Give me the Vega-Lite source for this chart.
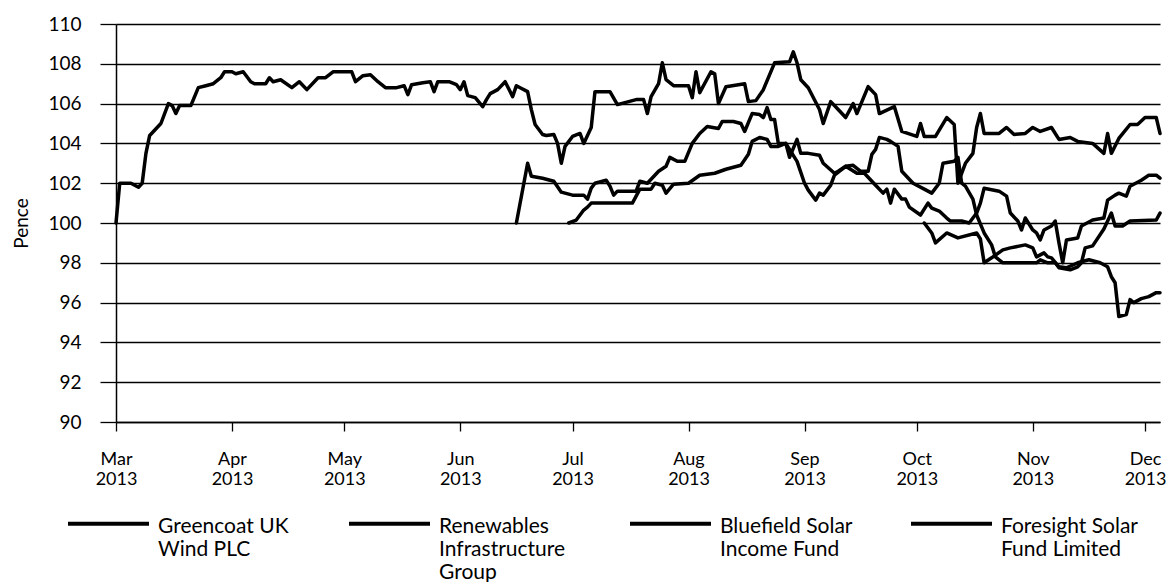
{
  "$schema": "https://vega.github.io/schema/vega-lite/v6.json",
  "autosize": {"type": "none"},
  "padding": {"left": 116, "top": 24, "right": 9, "bottom": 160},
  "width": 1044,
  "height": 398,
  "background": "white",
  "config": {
    "view": {"stroke": null},
    "font": "Lato",
    "text": {"font": "Lato"}
  },
  "data": {
    "values": [
      {"fund": "Greencoat UK Wind PLC", "date": "2013-03-01", "pence": 100.0},
      {"fund": "Greencoat UK Wind PLC", "date": "2013-03-02", "pence": 102.0},
      {"fund": "Greencoat UK Wind PLC", "date": "2013-03-05", "pence": 102.0},
      {"fund": "Greencoat UK Wind PLC", "date": "2013-03-07", "pence": 101.8},
      {"fund": "Greencoat UK Wind PLC", "date": "2013-03-08", "pence": 102.0},
      {"fund": "Greencoat UK Wind PLC", "date": "2013-03-09", "pence": 103.5},
      {"fund": "Greencoat UK Wind PLC", "date": "2013-03-10", "pence": 104.4},
      {"fund": "Greencoat UK Wind PLC", "date": "2013-03-12", "pence": 104.8},
      {"fund": "Greencoat UK Wind PLC", "date": "2013-03-13", "pence": 105.0},
      {"fund": "Greencoat UK Wind PLC", "date": "2013-03-15", "pence": 106.0},
      {"fund": "Greencoat UK Wind PLC", "date": "2013-03-16", "pence": 105.9},
      {"fund": "Greencoat UK Wind PLC", "date": "2013-03-17", "pence": 105.5},
      {"fund": "Greencoat UK Wind PLC", "date": "2013-03-18", "pence": 105.9},
      {"fund": "Greencoat UK Wind PLC", "date": "2013-03-21", "pence": 105.9},
      {"fund": "Greencoat UK Wind PLC", "date": "2013-03-23", "pence": 106.8},
      {"fund": "Greencoat UK Wind PLC", "date": "2013-03-25", "pence": 106.9},
      {"fund": "Greencoat UK Wind PLC", "date": "2013-03-27", "pence": 107.0},
      {"fund": "Greencoat UK Wind PLC", "date": "2013-03-29", "pence": 107.3},
      {"fund": "Greencoat UK Wind PLC", "date": "2013-03-30", "pence": 107.6},
      {"fund": "Greencoat UK Wind PLC", "date": "2013-04-01", "pence": 107.6},
      {"fund": "Greencoat UK Wind PLC", "date": "2013-04-02", "pence": 107.5},
      {"fund": "Greencoat UK Wind PLC", "date": "2013-04-04", "pence": 107.6},
      {"fund": "Greencoat UK Wind PLC", "date": "2013-04-06", "pence": 107.1},
      {"fund": "Greencoat UK Wind PLC", "date": "2013-04-07", "pence": 107.0},
      {"fund": "Greencoat UK Wind PLC", "date": "2013-04-10", "pence": 107.0},
      {"fund": "Greencoat UK Wind PLC", "date": "2013-04-11", "pence": 107.3},
      {"fund": "Greencoat UK Wind PLC", "date": "2013-04-12", "pence": 107.1},
      {"fund": "Greencoat UK Wind PLC", "date": "2013-04-14", "pence": 107.2},
      {"fund": "Greencoat UK Wind PLC", "date": "2013-04-17", "pence": 106.8},
      {"fund": "Greencoat UK Wind PLC", "date": "2013-04-19", "pence": 107.1},
      {"fund": "Greencoat UK Wind PLC", "date": "2013-04-21", "pence": 106.7},
      {"fund": "Greencoat UK Wind PLC", "date": "2013-04-24", "pence": 107.3},
      {"fund": "Greencoat UK Wind PLC", "date": "2013-04-26", "pence": 107.3},
      {"fund": "Greencoat UK Wind PLC", "date": "2013-04-28", "pence": 107.6},
      {"fund": "Greencoat UK Wind PLC", "date": "2013-05-03", "pence": 107.6},
      {"fund": "Greencoat UK Wind PLC", "date": "2013-05-04", "pence": 107.1},
      {"fund": "Greencoat UK Wind PLC", "date": "2013-05-06", "pence": 107.4},
      {"fund": "Greencoat UK Wind PLC", "date": "2013-05-08", "pence": 107.45},
      {"fund": "Greencoat UK Wind PLC", "date": "2013-05-10", "pence": 107.1},
      {"fund": "Greencoat UK Wind PLC", "date": "2013-05-12", "pence": 106.8},
      {"fund": "Greencoat UK Wind PLC", "date": "2013-05-15", "pence": 106.8},
      {"fund": "Greencoat UK Wind PLC", "date": "2013-05-17", "pence": 106.9},
      {"fund": "Greencoat UK Wind PLC", "date": "2013-05-18", "pence": 106.45},
      {"fund": "Greencoat UK Wind PLC", "date": "2013-05-19", "pence": 106.95},
      {"fund": "Greencoat UK Wind PLC", "date": "2013-05-22", "pence": 107.05},
      {"fund": "Greencoat UK Wind PLC", "date": "2013-05-24", "pence": 107.1},
      {"fund": "Greencoat UK Wind PLC", "date": "2013-05-25", "pence": 106.6},
      {"fund": "Greencoat UK Wind PLC", "date": "2013-05-26", "pence": 107.1},
      {"fund": "Greencoat UK Wind PLC", "date": "2013-05-29", "pence": 107.1},
      {"fund": "Greencoat UK Wind PLC", "date": "2013-05-31", "pence": 106.95},
      {"fund": "Greencoat UK Wind PLC", "date": "2013-06-01", "pence": 106.7},
      {"fund": "Greencoat UK Wind PLC", "date": "2013-06-02", "pence": 107.1},
      {"fund": "Greencoat UK Wind PLC", "date": "2013-06-03", "pence": 106.4},
      {"fund": "Greencoat UK Wind PLC", "date": "2013-06-05", "pence": 106.3},
      {"fund": "Greencoat UK Wind PLC", "date": "2013-06-07", "pence": 105.85},
      {"fund": "Greencoat UK Wind PLC", "date": "2013-06-08", "pence": 106.2},
      {"fund": "Greencoat UK Wind PLC", "date": "2013-06-09", "pence": 106.5},
      {"fund": "Greencoat UK Wind PLC", "date": "2013-06-11", "pence": 106.7},
      {"fund": "Greencoat UK Wind PLC", "date": "2013-06-13", "pence": 107.1},
      {"fund": "Greencoat UK Wind PLC", "date": "2013-06-15", "pence": 106.35},
      {"fund": "Greencoat UK Wind PLC", "date": "2013-06-16", "pence": 106.9},
      {"fund": "Greencoat UK Wind PLC", "date": "2013-06-17", "pence": 106.8},
      {"fund": "Greencoat UK Wind PLC", "date": "2013-06-19", "pence": 106.6},
      {"fund": "Greencoat UK Wind PLC", "date": "2013-06-20", "pence": 105.7},
      {"fund": "Greencoat UK Wind PLC", "date": "2013-06-21", "pence": 104.95},
      {"fund": "Greencoat UK Wind PLC", "date": "2013-06-23", "pence": 104.45},
      {"fund": "Greencoat UK Wind PLC", "date": "2013-06-24", "pence": 104.4},
      {"fund": "Greencoat UK Wind PLC", "date": "2013-06-26", "pence": 104.45},
      {"fund": "Greencoat UK Wind PLC", "date": "2013-06-27", "pence": 104.0},
      {"fund": "Greencoat UK Wind PLC", "date": "2013-06-28", "pence": 103.0},
      {"fund": "Greencoat UK Wind PLC", "date": "2013-06-29", "pence": 103.85},
      {"fund": "Greencoat UK Wind PLC", "date": "2013-07-01", "pence": 104.35},
      {"fund": "Greencoat UK Wind PLC", "date": "2013-07-03", "pence": 104.5},
      {"fund": "Greencoat UK Wind PLC", "date": "2013-07-04", "pence": 104.0},
      {"fund": "Greencoat UK Wind PLC", "date": "2013-07-06", "pence": 104.8},
      {"fund": "Greencoat UK Wind PLC", "date": "2013-07-07", "pence": 106.6},
      {"fund": "Greencoat UK Wind PLC", "date": "2013-07-11", "pence": 106.6},
      {"fund": "Greencoat UK Wind PLC", "date": "2013-07-13", "pence": 105.95},
      {"fund": "Greencoat UK Wind PLC", "date": "2013-07-15", "pence": 106.05},
      {"fund": "Greencoat UK Wind PLC", "date": "2013-07-18", "pence": 106.2},
      {"fund": "Greencoat UK Wind PLC", "date": "2013-07-20", "pence": 106.2},
      {"fund": "Greencoat UK Wind PLC", "date": "2013-07-21", "pence": 105.5},
      {"fund": "Greencoat UK Wind PLC", "date": "2013-07-22", "pence": 106.35},
      {"fund": "Greencoat UK Wind PLC", "date": "2013-07-24", "pence": 107.0},
      {"fund": "Greencoat UK Wind PLC", "date": "2013-07-25", "pence": 108.05},
      {"fund": "Greencoat UK Wind PLC", "date": "2013-07-26", "pence": 107.2},
      {"fund": "Greencoat UK Wind PLC", "date": "2013-07-28", "pence": 106.9},
      {"fund": "Greencoat UK Wind PLC", "date": "2013-08-01", "pence": 106.9},
      {"fund": "Greencoat UK Wind PLC", "date": "2013-08-02", "pence": 106.3},
      {"fund": "Greencoat UK Wind PLC", "date": "2013-08-03", "pence": 107.6},
      {"fund": "Greencoat UK Wind PLC", "date": "2013-08-04", "pence": 106.55},
      {"fund": "Greencoat UK Wind PLC", "date": "2013-08-07", "pence": 107.6},
      {"fund": "Greencoat UK Wind PLC", "date": "2013-08-08", "pence": 107.5},
      {"fund": "Greencoat UK Wind PLC", "date": "2013-08-09", "pence": 106.0},
      {"fund": "Greencoat UK Wind PLC", "date": "2013-08-11", "pence": 106.85},
      {"fund": "Greencoat UK Wind PLC", "date": "2013-08-16", "pence": 107.0},
      {"fund": "Greencoat UK Wind PLC", "date": "2013-08-17", "pence": 106.1},
      {"fund": "Greencoat UK Wind PLC", "date": "2013-08-19", "pence": 106.15},
      {"fund": "Greencoat UK Wind PLC", "date": "2013-08-21", "pence": 106.7},
      {"fund": "Greencoat UK Wind PLC", "date": "2013-08-24", "pence": 108.05},
      {"fund": "Greencoat UK Wind PLC", "date": "2013-08-28", "pence": 108.1},
      {"fund": "Greencoat UK Wind PLC", "date": "2013-08-29", "pence": 108.6},
      {"fund": "Greencoat UK Wind PLC", "date": "2013-08-30", "pence": 108.05},
      {"fund": "Greencoat UK Wind PLC", "date": "2013-08-31", "pence": 107.2},
      {"fund": "Greencoat UK Wind PLC", "date": "2013-09-02", "pence": 106.8},
      {"fund": "Greencoat UK Wind PLC", "date": "2013-09-05", "pence": 105.7},
      {"fund": "Greencoat UK Wind PLC", "date": "2013-09-06", "pence": 105.0},
      {"fund": "Greencoat UK Wind PLC", "date": "2013-09-08", "pence": 106.1},
      {"fund": "Greencoat UK Wind PLC", "date": "2013-09-10", "pence": 105.7},
      {"fund": "Greencoat UK Wind PLC", "date": "2013-09-12", "pence": 105.3},
      {"fund": "Greencoat UK Wind PLC", "date": "2013-09-14", "pence": 106.0},
      {"fund": "Greencoat UK Wind PLC", "date": "2013-09-15", "pence": 105.5},
      {"fund": "Greencoat UK Wind PLC", "date": "2013-09-18", "pence": 106.85},
      {"fund": "Greencoat UK Wind PLC", "date": "2013-09-20", "pence": 106.45},
      {"fund": "Greencoat UK Wind PLC", "date": "2013-09-21", "pence": 105.5},
      {"fund": "Greencoat UK Wind PLC", "date": "2013-09-25", "pence": 105.85},
      {"fund": "Greencoat UK Wind PLC", "date": "2013-09-27", "pence": 104.6},
      {"fund": "Greencoat UK Wind PLC", "date": "2013-10-01", "pence": 104.35},
      {"fund": "Greencoat UK Wind PLC", "date": "2013-10-02", "pence": 105.0},
      {"fund": "Greencoat UK Wind PLC", "date": "2013-10-03", "pence": 104.35},
      {"fund": "Greencoat UK Wind PLC", "date": "2013-10-06", "pence": 104.35},
      {"fund": "Greencoat UK Wind PLC", "date": "2013-10-09", "pence": 105.3},
      {"fund": "Greencoat UK Wind PLC", "date": "2013-10-11", "pence": 104.95},
      {"fund": "Greencoat UK Wind PLC", "date": "2013-10-12", "pence": 102.0},
      {"fund": "Greencoat UK Wind PLC", "date": "2013-10-14", "pence": 103.0},
      {"fund": "Greencoat UK Wind PLC", "date": "2013-10-16", "pence": 103.5},
      {"fund": "Greencoat UK Wind PLC", "date": "2013-10-17", "pence": 104.8},
      {"fund": "Greencoat UK Wind PLC", "date": "2013-10-18", "pence": 105.5},
      {"fund": "Greencoat UK Wind PLC", "date": "2013-10-19", "pence": 104.5},
      {"fund": "Greencoat UK Wind PLC", "date": "2013-10-23", "pence": 104.5},
      {"fund": "Greencoat UK Wind PLC", "date": "2013-10-25", "pence": 104.8},
      {"fund": "Greencoat UK Wind PLC", "date": "2013-10-27", "pence": 104.45},
      {"fund": "Greencoat UK Wind PLC", "date": "2013-10-30", "pence": 104.5},
      {"fund": "Greencoat UK Wind PLC", "date": "2013-11-01", "pence": 104.8},
      {"fund": "Greencoat UK Wind PLC", "date": "2013-11-03", "pence": 104.6},
      {"fund": "Greencoat UK Wind PLC", "date": "2013-11-06", "pence": 104.8},
      {"fund": "Greencoat UK Wind PLC", "date": "2013-11-08", "pence": 104.2},
      {"fund": "Greencoat UK Wind PLC", "date": "2013-11-11", "pence": 104.3},
      {"fund": "Greencoat UK Wind PLC", "date": "2013-11-13", "pence": 104.1},
      {"fund": "Greencoat UK Wind PLC", "date": "2013-11-17", "pence": 104.0},
      {"fund": "Greencoat UK Wind PLC", "date": "2013-11-20", "pence": 103.5},
      {"fund": "Greencoat UK Wind PLC", "date": "2013-11-21", "pence": 104.5},
      {"fund": "Greencoat UK Wind PLC", "date": "2013-11-22", "pence": 103.5},
      {"fund": "Greencoat UK Wind PLC", "date": "2013-11-24", "pence": 104.25},
      {"fund": "Greencoat UK Wind PLC", "date": "2013-11-27", "pence": 104.95},
      {"fund": "Greencoat UK Wind PLC", "date": "2013-11-29", "pence": 104.95},
      {"fund": "Greencoat UK Wind PLC", "date": "2013-12-01", "pence": 105.3},
      {"fund": "Greencoat UK Wind PLC", "date": "2013-12-04", "pence": 105.3},
      {"fund": "Greencoat UK Wind PLC", "date": "2013-12-05", "pence": 104.5},

      {"fund": "Bluefield Solar Income Fund", "date": "2013-06-16", "pence": 100.0},
      {"fund": "Bluefield Solar Income Fund", "date": "2013-06-19", "pence": 103.0},
      {"fund": "Bluefield Solar Income Fund", "date": "2013-06-20", "pence": 102.35},
      {"fund": "Bluefield Solar Income Fund", "date": "2013-06-23", "pence": 102.25},
      {"fund": "Bluefield Solar Income Fund", "date": "2013-06-26", "pence": 102.1},
      {"fund": "Bluefield Solar Income Fund", "date": "2013-06-28", "pence": 101.55},
      {"fund": "Bluefield Solar Income Fund", "date": "2013-07-01", "pence": 101.4},
      {"fund": "Bluefield Solar Income Fund", "date": "2013-07-04", "pence": 101.4},
      {"fund": "Bluefield Solar Income Fund", "date": "2013-07-05", "pence": 101.2},
      {"fund": "Bluefield Solar Income Fund", "date": "2013-07-06", "pence": 101.75},
      {"fund": "Bluefield Solar Income Fund", "date": "2013-07-07", "pence": 102.0},
      {"fund": "Bluefield Solar Income Fund", "date": "2013-07-10", "pence": 102.15},
      {"fund": "Bluefield Solar Income Fund", "date": "2013-07-11", "pence": 101.85},
      {"fund": "Bluefield Solar Income Fund", "date": "2013-07-12", "pence": 101.4},
      {"fund": "Bluefield Solar Income Fund", "date": "2013-07-13", "pence": 101.6},
      {"fund": "Bluefield Solar Income Fund", "date": "2013-07-18", "pence": 101.6},
      {"fund": "Bluefield Solar Income Fund", "date": "2013-07-19", "pence": 102.1},
      {"fund": "Bluefield Solar Income Fund", "date": "2013-07-21", "pence": 102.0},
      {"fund": "Bluefield Solar Income Fund", "date": "2013-07-24", "pence": 102.6},
      {"fund": "Bluefield Solar Income Fund", "date": "2013-07-26", "pence": 102.85},
      {"fund": "Bluefield Solar Income Fund", "date": "2013-07-27", "pence": 103.3},
      {"fund": "Bluefield Solar Income Fund", "date": "2013-07-29", "pence": 103.1},
      {"fund": "Bluefield Solar Income Fund", "date": "2013-07-31", "pence": 103.1},
      {"fund": "Bluefield Solar Income Fund", "date": "2013-08-02", "pence": 104.0},
      {"fund": "Bluefield Solar Income Fund", "date": "2013-08-04", "pence": 104.5},
      {"fund": "Bluefield Solar Income Fund", "date": "2013-08-06", "pence": 104.85},
      {"fund": "Bluefield Solar Income Fund", "date": "2013-08-09", "pence": 104.75},
      {"fund": "Bluefield Solar Income Fund", "date": "2013-08-10", "pence": 105.1},
      {"fund": "Bluefield Solar Income Fund", "date": "2013-08-13", "pence": 105.1},
      {"fund": "Bluefield Solar Income Fund", "date": "2013-08-15", "pence": 105.0},
      {"fund": "Bluefield Solar Income Fund", "date": "2013-08-16", "pence": 104.6},
      {"fund": "Bluefield Solar Income Fund", "date": "2013-08-18", "pence": 105.5},
      {"fund": "Bluefield Solar Income Fund", "date": "2013-08-20", "pence": 105.45},
      {"fund": "Bluefield Solar Income Fund", "date": "2013-08-21", "pence": 105.3},
      {"fund": "Bluefield Solar Income Fund", "date": "2013-08-22", "pence": 105.8},
      {"fund": "Bluefield Solar Income Fund", "date": "2013-08-23", "pence": 105.2},
      {"fund": "Bluefield Solar Income Fund", "date": "2013-08-24", "pence": 105.2},
      {"fund": "Bluefield Solar Income Fund", "date": "2013-08-25", "pence": 104.0},
      {"fund": "Bluefield Solar Income Fund", "date": "2013-08-27", "pence": 104.0},
      {"fund": "Bluefield Solar Income Fund", "date": "2013-08-28", "pence": 103.3},
      {"fund": "Bluefield Solar Income Fund", "date": "2013-08-30", "pence": 104.2},
      {"fund": "Bluefield Solar Income Fund", "date": "2013-08-31", "pence": 103.5},
      {"fund": "Bluefield Solar Income Fund", "date": "2013-09-02", "pence": 103.5},
      {"fund": "Bluefield Solar Income Fund", "date": "2013-09-05", "pence": 103.4},
      {"fund": "Bluefield Solar Income Fund", "date": "2013-09-06", "pence": 103.0},
      {"fund": "Bluefield Solar Income Fund", "date": "2013-09-09", "pence": 102.5},
      {"fund": "Bluefield Solar Income Fund", "date": "2013-09-10", "pence": 102.6},
      {"fund": "Bluefield Solar Income Fund", "date": "2013-09-12", "pence": 102.85},
      {"fund": "Bluefield Solar Income Fund", "date": "2013-09-15", "pence": 102.5},
      {"fund": "Bluefield Solar Income Fund", "date": "2013-09-17", "pence": 102.5},
      {"fund": "Bluefield Solar Income Fund", "date": "2013-09-20", "pence": 101.9},
      {"fund": "Bluefield Solar Income Fund", "date": "2013-09-22", "pence": 101.5},
      {"fund": "Bluefield Solar Income Fund", "date": "2013-09-23", "pence": 101.7},
      {"fund": "Bluefield Solar Income Fund", "date": "2013-09-24", "pence": 101.0},
      {"fund": "Bluefield Solar Income Fund", "date": "2013-09-25", "pence": 101.7},
      {"fund": "Bluefield Solar Income Fund", "date": "2013-09-27", "pence": 101.2},
      {"fund": "Bluefield Solar Income Fund", "date": "2013-09-28", "pence": 101.2},
      {"fund": "Bluefield Solar Income Fund", "date": "2013-09-29", "pence": 100.8},
      {"fund": "Bluefield Solar Income Fund", "date": "2013-10-02", "pence": 100.4},
      {"fund": "Bluefield Solar Income Fund", "date": "2013-10-04", "pence": 101.0},
      {"fund": "Bluefield Solar Income Fund", "date": "2013-10-05", "pence": 100.75},
      {"fund": "Bluefield Solar Income Fund", "date": "2013-10-07", "pence": 100.6},
      {"fund": "Bluefield Solar Income Fund", "date": "2013-10-09", "pence": 100.25},
      {"fund": "Bluefield Solar Income Fund", "date": "2013-10-10", "pence": 100.1},
      {"fund": "Bluefield Solar Income Fund", "date": "2013-10-13", "pence": 100.1},
      {"fund": "Bluefield Solar Income Fund", "date": "2013-10-15", "pence": 100.0},
      {"fund": "Bluefield Solar Income Fund", "date": "2013-10-17", "pence": 100.5},
      {"fund": "Bluefield Solar Income Fund", "date": "2013-10-18", "pence": 101.0},
      {"fund": "Bluefield Solar Income Fund", "date": "2013-10-19", "pence": 101.75},
      {"fund": "Bluefield Solar Income Fund", "date": "2013-10-23", "pence": 101.6},
      {"fund": "Bluefield Solar Income Fund", "date": "2013-10-25", "pence": 101.35},
      {"fund": "Bluefield Solar Income Fund", "date": "2013-10-26", "pence": 100.5},
      {"fund": "Bluefield Solar Income Fund", "date": "2013-10-28", "pence": 100.1},
      {"fund": "Bluefield Solar Income Fund", "date": "2013-10-29", "pence": 99.65},
      {"fund": "Bluefield Solar Income Fund", "date": "2013-10-30", "pence": 100.25},
      {"fund": "Bluefield Solar Income Fund", "date": "2013-11-01", "pence": 99.65},
      {"fund": "Bluefield Solar Income Fund", "date": "2013-11-02", "pence": 99.5},
      {"fund": "Bluefield Solar Income Fund", "date": "2013-11-03", "pence": 99.15},
      {"fund": "Bluefield Solar Income Fund", "date": "2013-11-04", "pence": 99.65},
      {"fund": "Bluefield Solar Income Fund", "date": "2013-11-06", "pence": 99.85},
      {"fund": "Bluefield Solar Income Fund", "date": "2013-11-07", "pence": 100.1},
      {"fund": "Bluefield Solar Income Fund", "date": "2013-11-08", "pence": 99.0},
      {"fund": "Bluefield Solar Income Fund", "date": "2013-11-09", "pence": 98.0},
      {"fund": "Bluefield Solar Income Fund", "date": "2013-11-10", "pence": 99.15},
      {"fund": "Bluefield Solar Income Fund", "date": "2013-11-13", "pence": 99.25},
      {"fund": "Bluefield Solar Income Fund", "date": "2013-11-14", "pence": 99.85},
      {"fund": "Bluefield Solar Income Fund", "date": "2013-11-17", "pence": 100.15},
      {"fund": "Bluefield Solar Income Fund", "date": "2013-11-20", "pence": 100.25},
      {"fund": "Bluefield Solar Income Fund", "date": "2013-11-21", "pence": 101.15},
      {"fund": "Bluefield Solar Income Fund", "date": "2013-11-23", "pence": 101.4},
      {"fund": "Bluefield Solar Income Fund", "date": "2013-11-24", "pence": 101.5},
      {"fund": "Bluefield Solar Income Fund", "date": "2013-11-26", "pence": 101.35},
      {"fund": "Bluefield Solar Income Fund", "date": "2013-11-27", "pence": 101.85},
      {"fund": "Bluefield Solar Income Fund", "date": "2013-11-30", "pence": 102.15},
      {"fund": "Bluefield Solar Income Fund", "date": "2013-12-02", "pence": 102.4},
      {"fund": "Bluefield Solar Income Fund", "date": "2013-12-04", "pence": 102.4},
      {"fund": "Bluefield Solar Income Fund", "date": "2013-12-05", "pence": 102.25},

      {"fund": "Renewables Infrastructure Group", "date": "2013-06-30", "pence": 100.0},
      {"fund": "Renewables Infrastructure Group", "date": "2013-07-02", "pence": 100.15},
      {"fund": "Renewables Infrastructure Group", "date": "2013-07-03", "pence": 100.4},
      {"fund": "Renewables Infrastructure Group", "date": "2013-07-04", "pence": 100.65},
      {"fund": "Renewables Infrastructure Group", "date": "2013-07-05", "pence": 100.8},
      {"fund": "Renewables Infrastructure Group", "date": "2013-07-06", "pence": 101.0},
      {"fund": "Renewables Infrastructure Group", "date": "2013-07-17", "pence": 101.0},
      {"fund": "Renewables Infrastructure Group", "date": "2013-07-18", "pence": 101.35},
      {"fund": "Renewables Infrastructure Group", "date": "2013-07-19", "pence": 101.7},
      {"fund": "Renewables Infrastructure Group", "date": "2013-07-22", "pence": 101.7},
      {"fund": "Renewables Infrastructure Group", "date": "2013-07-23", "pence": 102.0},
      {"fund": "Renewables Infrastructure Group", "date": "2013-07-25", "pence": 101.9},
      {"fund": "Renewables Infrastructure Group", "date": "2013-07-26", "pence": 101.5},
      {"fund": "Renewables Infrastructure Group", "date": "2013-07-28", "pence": 101.95},
      {"fund": "Renewables Infrastructure Group", "date": "2013-08-01", "pence": 102.0},
      {"fund": "Renewables Infrastructure Group", "date": "2013-08-04", "pence": 102.4},
      {"fund": "Renewables Infrastructure Group", "date": "2013-08-08", "pence": 102.5},
      {"fund": "Renewables Infrastructure Group", "date": "2013-08-11", "pence": 102.7},
      {"fund": "Renewables Infrastructure Group", "date": "2013-08-15", "pence": 102.9},
      {"fund": "Renewables Infrastructure Group", "date": "2013-08-17", "pence": 103.45},
      {"fund": "Renewables Infrastructure Group", "date": "2013-08-18", "pence": 104.1},
      {"fund": "Renewables Infrastructure Group", "date": "2013-08-20", "pence": 104.3},
      {"fund": "Renewables Infrastructure Group", "date": "2013-08-22", "pence": 104.2},
      {"fund": "Renewables Infrastructure Group", "date": "2013-08-23", "pence": 103.85},
      {"fund": "Renewables Infrastructure Group", "date": "2013-08-25", "pence": 103.85},
      {"fund": "Renewables Infrastructure Group", "date": "2013-08-27", "pence": 104.0},
      {"fund": "Renewables Infrastructure Group", "date": "2013-08-30", "pence": 103.1},
      {"fund": "Renewables Infrastructure Group", "date": "2013-09-01", "pence": 102.0},
      {"fund": "Renewables Infrastructure Group", "date": "2013-09-02", "pence": 101.65},
      {"fund": "Renewables Infrastructure Group", "date": "2013-09-04", "pence": 101.15},
      {"fund": "Renewables Infrastructure Group", "date": "2013-09-05", "pence": 101.5},
      {"fund": "Renewables Infrastructure Group", "date": "2013-09-06", "pence": 101.4},
      {"fund": "Renewables Infrastructure Group", "date": "2013-09-08", "pence": 101.9},
      {"fund": "Renewables Infrastructure Group", "date": "2013-09-09", "pence": 102.4},
      {"fund": "Renewables Infrastructure Group", "date": "2013-09-12", "pence": 102.85},
      {"fund": "Renewables Infrastructure Group", "date": "2013-09-14", "pence": 102.9},
      {"fund": "Renewables Infrastructure Group", "date": "2013-09-16", "pence": 102.6},
      {"fund": "Renewables Infrastructure Group", "date": "2013-09-18", "pence": 102.6},
      {"fund": "Renewables Infrastructure Group", "date": "2013-09-19", "pence": 103.45},
      {"fund": "Renewables Infrastructure Group", "date": "2013-09-20", "pence": 103.7},
      {"fund": "Renewables Infrastructure Group", "date": "2013-09-21", "pence": 104.3},
      {"fund": "Renewables Infrastructure Group", "date": "2013-09-23", "pence": 104.2},
      {"fund": "Renewables Infrastructure Group", "date": "2013-09-24", "pence": 104.1},
      {"fund": "Renewables Infrastructure Group", "date": "2013-09-26", "pence": 103.85},
      {"fund": "Renewables Infrastructure Group", "date": "2013-09-27", "pence": 102.6},
      {"fund": "Renewables Infrastructure Group", "date": "2013-09-30", "pence": 102.0},
      {"fund": "Renewables Infrastructure Group", "date": "2013-10-03", "pence": 101.7},
      {"fund": "Renewables Infrastructure Group", "date": "2013-10-05", "pence": 101.5},
      {"fund": "Renewables Infrastructure Group", "date": "2013-10-07", "pence": 102.0},
      {"fund": "Renewables Infrastructure Group", "date": "2013-10-08", "pence": 103.0},
      {"fund": "Renewables Infrastructure Group", "date": "2013-10-11", "pence": 103.1},
      {"fund": "Renewables Infrastructure Group", "date": "2013-10-12", "pence": 103.3},
      {"fund": "Renewables Infrastructure Group", "date": "2013-10-13", "pence": 102.0},
      {"fund": "Renewables Infrastructure Group", "date": "2013-10-14", "pence": 101.85},
      {"fund": "Renewables Infrastructure Group", "date": "2013-10-16", "pence": 101.2},
      {"fund": "Renewables Infrastructure Group", "date": "2013-10-17", "pence": 100.4},
      {"fund": "Renewables Infrastructure Group", "date": "2013-10-19", "pence": 99.5},
      {"fund": "Renewables Infrastructure Group", "date": "2013-10-21", "pence": 98.9},
      {"fund": "Renewables Infrastructure Group", "date": "2013-10-22", "pence": 98.3},
      {"fund": "Renewables Infrastructure Group", "date": "2013-10-24", "pence": 98.0},
      {"fund": "Renewables Infrastructure Group", "date": "2013-11-02", "pence": 98.0},
      {"fund": "Renewables Infrastructure Group", "date": "2013-11-03", "pence": 98.15},
      {"fund": "Renewables Infrastructure Group", "date": "2013-11-05", "pence": 98.0},
      {"fund": "Renewables Infrastructure Group", "date": "2013-11-07", "pence": 98.0},
      {"fund": "Renewables Infrastructure Group", "date": "2013-11-08", "pence": 97.75},
      {"fund": "Renewables Infrastructure Group", "date": "2013-11-11", "pence": 97.65},
      {"fund": "Renewables Infrastructure Group", "date": "2013-11-13", "pence": 97.8},
      {"fund": "Renewables Infrastructure Group", "date": "2013-11-14", "pence": 98.0},
      {"fund": "Renewables Infrastructure Group", "date": "2013-11-15", "pence": 98.75},
      {"fund": "Renewables Infrastructure Group", "date": "2013-11-17", "pence": 98.85},
      {"fund": "Renewables Infrastructure Group", "date": "2013-11-20", "pence": 99.7},
      {"fund": "Renewables Infrastructure Group", "date": "2013-11-22", "pence": 100.5},
      {"fund": "Renewables Infrastructure Group", "date": "2013-11-23", "pence": 99.85},
      {"fund": "Renewables Infrastructure Group", "date": "2013-11-25", "pence": 99.85},
      {"fund": "Renewables Infrastructure Group", "date": "2013-11-27", "pence": 100.1},
      {"fund": "Renewables Infrastructure Group", "date": "2013-12-04", "pence": 100.15},
      {"fund": "Renewables Infrastructure Group", "date": "2013-12-05", "pence": 100.5},

      {"fund": "Foresight Solar Fund Limited", "date": "2013-10-03", "pence": 100.0},
      {"fund": "Foresight Solar Fund Limited", "date": "2013-10-05", "pence": 99.5},
      {"fund": "Foresight Solar Fund Limited", "date": "2013-10-06", "pence": 99.0},
      {"fund": "Foresight Solar Fund Limited", "date": "2013-10-09", "pence": 99.5},
      {"fund": "Foresight Solar Fund Limited", "date": "2013-10-12", "pence": 99.25},
      {"fund": "Foresight Solar Fund Limited", "date": "2013-10-17", "pence": 99.5},
      {"fund": "Foresight Solar Fund Limited", "date": "2013-10-18", "pence": 99.2},
      {"fund": "Foresight Solar Fund Limited", "date": "2013-10-19", "pence": 98.0},
      {"fund": "Foresight Solar Fund Limited", "date": "2013-10-21", "pence": 98.25},
      {"fund": "Foresight Solar Fund Limited", "date": "2013-10-24", "pence": 98.65},
      {"fund": "Foresight Solar Fund Limited", "date": "2013-10-26", "pence": 98.75},
      {"fund": "Foresight Solar Fund Limited", "date": "2013-10-30", "pence": 98.9},
      {"fund": "Foresight Solar Fund Limited", "date": "2013-11-01", "pence": 98.75},
      {"fund": "Foresight Solar Fund Limited", "date": "2013-11-02", "pence": 98.3},
      {"fund": "Foresight Solar Fund Limited", "date": "2013-11-04", "pence": 98.5},
      {"fund": "Foresight Solar Fund Limited", "date": "2013-11-05", "pence": 98.3},
      {"fund": "Foresight Solar Fund Limited", "date": "2013-11-06", "pence": 98.25},
      {"fund": "Foresight Solar Fund Limited", "date": "2013-11-08", "pence": 97.8},
      {"fund": "Foresight Solar Fund Limited", "date": "2013-11-10", "pence": 97.75},
      {"fund": "Foresight Solar Fund Limited", "date": "2013-11-13", "pence": 98.0},
      {"fund": "Foresight Solar Fund Limited", "date": "2013-11-16", "pence": 98.15},
      {"fund": "Foresight Solar Fund Limited", "date": "2013-11-19", "pence": 98.0},
      {"fund": "Foresight Solar Fund Limited", "date": "2013-11-21", "pence": 97.8},
      {"fund": "Foresight Solar Fund Limited", "date": "2013-11-22", "pence": 97.3},
      {"fund": "Foresight Solar Fund Limited", "date": "2013-11-23", "pence": 97.0},
      {"fund": "Foresight Solar Fund Limited", "date": "2013-11-24", "pence": 95.3},
      {"fund": "Foresight Solar Fund Limited", "date": "2013-11-26", "pence": 95.4},
      {"fund": "Foresight Solar Fund Limited", "date": "2013-11-27", "pence": 96.15},
      {"fund": "Foresight Solar Fund Limited", "date": "2013-11-28", "pence": 96.0},
      {"fund": "Foresight Solar Fund Limited", "date": "2013-11-30", "pence": 96.2},
      {"fund": "Foresight Solar Fund Limited", "date": "2013-12-02", "pence": 96.3},
      {"fund": "Foresight Solar Fund Limited", "date": "2013-12-04", "pence": 96.5},
      {"fund": "Foresight Solar Fund Limited", "date": "2013-12-05", "pence": 96.5}
    ]
  },
  "mark": {"type": "line", "strokeWidth": 3.5, "strokeJoin": "round", "strokeCap": "round"},
  "encoding": {
    "x": {
      "field": "date",
      "type": "temporal",
      "scale": {
        "type": "utc",
        "nice": false,
        "domain": [
          {"year": 2013, "month": 3, "date": 1, "utc": true},
          {"year": 2013, "month": 12, "date": 5, "utc": true}
        ]
      },
      "axis": {
        "title": null,
        "values": [
          {"year": 2013, "month": 3, "date": 1, "utc": true},
          {"year": 2013, "month": 4, "date": 1, "utc": true},
          {"year": 2013, "month": 5, "date": 1, "utc": true},
          {"year": 2013, "month": 6, "date": 1, "utc": true},
          {"year": 2013, "month": 7, "date": 1, "utc": true},
          {"year": 2013, "month": 8, "date": 1, "utc": true},
          {"year": 2013, "month": 9, "date": 1, "utc": true},
          {"year": 2013, "month": 10, "date": 1, "utc": true},
          {"year": 2013, "month": 11, "date": 1, "utc": true},
          {"year": 2013, "month": 12, "date": 1, "utc": true}
        ],
        "labelExpr": "[utcFormat(datum.value, '%b'), utcFormat(datum.value, '%Y')]",
        "grid": false,
        "domainColor": "#000",
        "domainWidth": 1.3,
        "tickColor": "#000",
        "tickWidth": 1.3,
        "tickSize": 9,
        "labelFont": "Lato",
        "labelFontSize": 18,
        "labelColor": "#000",
        "labelPadding": 19,
        "labelLineHeight": 20,
        "labelAlign": "center",
        "labelBaseline": "top",
        "labelOverlap": false,
        "labelFlush": false
      }
    },
    "y": {
      "field": "pence",
      "type": "quantitative",
      "scale": {"domain": [90, 110], "nice": false, "zero": false},
      "axis": {
        "values": [90, 92, 94, 96, 98, 100, 102, 104, 106, 108, 110],
        "title": "Pence",
        "titleFont": "Lato",
        "titleFontSize": 19,
        "titleFontWeight": "normal",
        "titleColor": "#000",
        "titleAngle": 270,
        "titleX": -95,
        "titleY": 199,
        "titleAlign": "center",
        "titleBaseline": "middle",
        "grid": true,
        "gridColor": "#000",
        "gridWidth": 1.3,
        "domainColor": "#000",
        "domainWidth": 1.5,
        "tickColor": "#000",
        "tickWidth": 1.3,
        "tickSize": 16,
        "labelFont": "Lato",
        "labelFontSize": 19,
        "labelColor": "#000",
        "labelPadding": 19
      }
    },
    "color": {
      "field": "fund",
      "type": "nominal",
      "scale": {
        "domain": ["Greencoat UK Wind PLC", "Renewables Infrastructure Group", "Bluefield Solar Income Fund", "Foresight Solar Fund Limited"],
        "range": ["#000000", "#000000", "#000000", "#000000"]
      },
      "legend": {
        "title": null,
        "orient": "none",
        "legendX": -50,
        "legendY": 449,
        "direction": "horizontal",
        "columns": 4,
        "gridAlign": "all",
        "columnPadding": 46,
        "padding": 0,
        "symbolType": "M-1,0.2H1",
        "symbolSize": 6561,
        "symbolStrokeWidth": 4,
        "labelFont": "Lato",
        "labelFontSize": 21,
        "labelColor": "#000",
        "labelOffset": 7,
        "labelLimit": 0,
        "labelBaseline": "top",
        "labelLineHeight": 23,
        "labelExpr": "datum.label == 'Greencoat UK Wind PLC' ? ['Greencoat UK', 'Wind PLC', ''] : datum.label == 'Renewables Infrastructure Group' ? ['Renewables', 'Infrastructure', 'Group'] : datum.label == 'Bluefield Solar Income Fund' ? ['Bluefield Solar', 'Income Fund', ''] : ['Foresight Solar', 'Fund Limited', '']"
      }
    }
  }
}
